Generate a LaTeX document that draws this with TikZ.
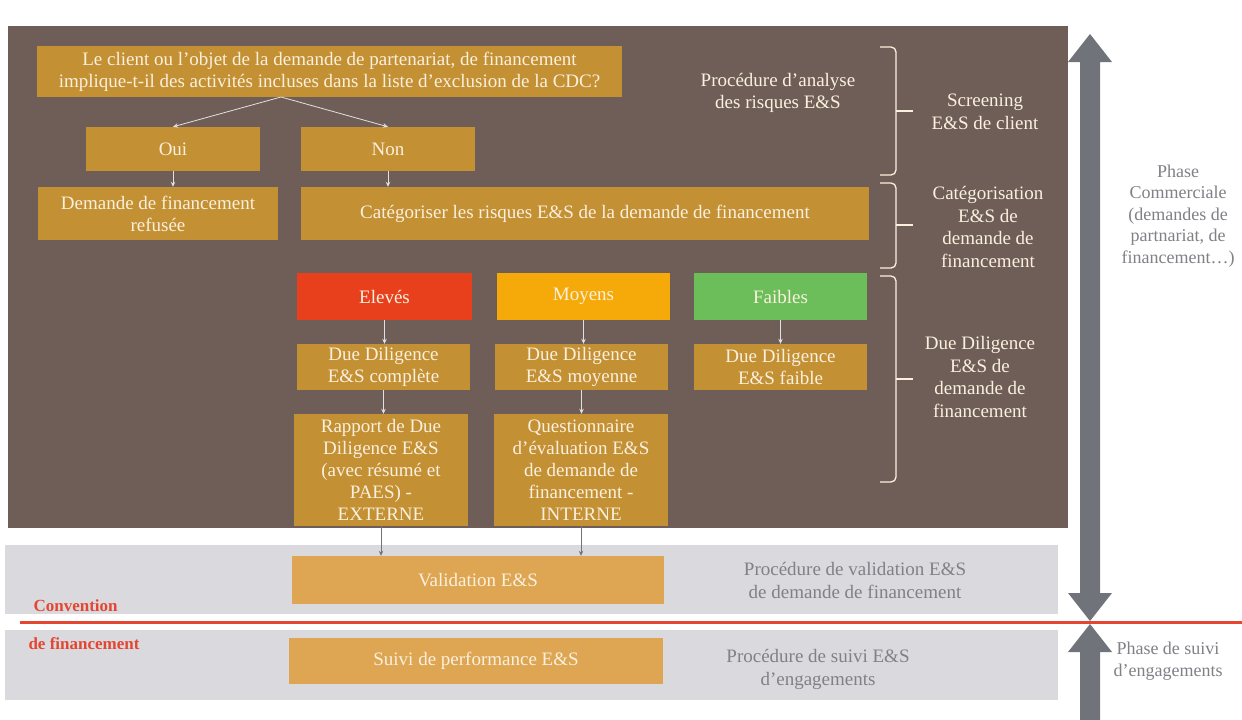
\documentclass[tikz,border=0pt]{standalone}
\usepackage{fontspec}
\setmainfont{Liberation Serif}
\usetikzlibrary{arrows.meta,calc}
\definecolor{brownbg}{RGB}{110,94,87}
\definecolor{mustard}{RGB}{196,144,52}
\definecolor{lightmustard}{RGB}{222,166,82}
\definecolor{cream}{RGB}{250,240,222}
\definecolor{redbox}{RGB}{232,64,28}
\definecolor{orangebox}{RGB}{246,170,10}
\definecolor{greenbox}{RGB}{108,190,90}
\definecolor{bandgray}{RGB}{218,218,222}
\definecolor{graytext}{RGB}{128,128,134}
\definecolor{redline}{RGB}{228,70,50}
\definecolor{arrowgray}{RGB}{112,116,122}
\definecolor{flowcol}{RGB}{225,225,228}
\begin{document}
\begin{tikzpicture}[x=1pt,y=-1pt,
  box/.style={fill=mustard,text=cream,align=center,inner sep=0pt,font=\fontsize{19}{22}\selectfont},
  lightbox/.style={box,fill=lightmustard},
  flow/.style={draw=flowcol,line width=0.8pt,-{Stealth[length=5pt,width=4.5pt]}},
  outflow/.style={draw=arrowgray,line width=0.8pt,-{Stealth[length=5pt,width=4.5pt]}},
  sidelabel/.style={text=cream,align=center,font=\fontsize{19}{22.5}\selectfont},
  graylabel/.style={text=graytext,align=center,font=\fontsize{19}{23}\selectfont},
  phaselabel/.style={text=graytext,align=center,font=\fontsize{18}{21.5}\selectfont},
  bracestyle/.style={draw=cream,line width=1.3pt,rounded corners=5pt},
  redtext/.style={anchor=west,text=redline,font=\fontsize{17}{20}\selectfont\bfseries}
]
\useasboundingbox (0,0) rectangle (1242,720);
\fill[white] (0,0) rectangle (1242,720);
\fill[brownbg] (8,26) rectangle (1068,528);
\fill[bandgray] (5,545) rectangle (1058,614);
\fill[bandgray] (5,630) rectangle (1058,700);

% boxes
\node[box,minimum width=585pt,minimum height=51pt] (q) at (329.5,71.5)
  {Le client ou l'objet de la demande de partenariat, de financement\\implique-t-il des activités incluses dans la liste d’exclusion de la CDC?};
\node[box,minimum width=174pt,minimum height=44pt] (oui) at (173,149) {Oui};
\node[box,minimum width=174pt,minimum height=44pt] (non) at (388,149) {Non};
\node[box,minimum width=240pt,minimum height=53pt] (ref) at (158,213.5) {Demande de financement\\refusée};
\node[box,minimum width=568pt,minimum height=53pt] (cat) at (585,213.5) {Catégoriser les risques E\&S de la demande de financement};
\node[box,fill=redbox,minimum width=175pt,minimum height=47pt] (elev) at (384.5,296.5) {Elevés};
\node[box,fill=orangebox,minimum width=173pt,minimum height=47pt] (moy) at (583.5,296.5) {Moyens};
\node[box,fill=greenbox,minimum width=173pt,minimum height=47pt] (faib) at (780.5,296.5) {Faibles};
\node[box,minimum width=173pt,minimum height=46pt] (dd1) at (383.5,367) {Due Diligence\\E\&S complète};
\node[box,minimum width=173pt,minimum height=46pt] (dd2) at (581.5,367) {Due Diligence\\E\&S moyenne};
\node[box,minimum width=173pt,minimum height=46pt] (dd3) at (780.5,367) {Due Diligence\\E\&S faible};
\node[box,minimum width=174pt,minimum height=112pt] (rap) at (381,470) {Rapport de Due\\Diligence E\&S\\(avec résumé et\\PAES) -\\EXTERNE};
\node[box,minimum width=174pt,minimum height=112pt] (que) at (581,470) {Questionnaire\\d’évaluation E\&S\\de demande de\\financement -\\INTERNE};
\node[lightbox,minimum width=372pt,minimum height=48pt] (val) at (478,580) {Validation E\&S};
\node[lightbox,minimum width=374pt,minimum height=46pt] (suivi) at (476,661) {Suivi de performance E\&S};

% connectors
\coordinate (qs) at (281,97);
\draw[flow] (qs) -- (oui.north);
\draw[flow] (qs) -- (non.north);
\draw[flow] (oui.south) -- (oui.south |- ref.north);
\draw[flow] (non.south) -- (non.south |- cat.north);
\draw[flow] (elev.south) -- (elev.south |- dd1.north);
\draw[flow] (moy.south) -- (moy.south |- dd2.north);
\draw[flow] (faib.south) -- (faib.south |- dd3.north);
\draw[flow] (dd1.south) -- (dd1.south |- rap.north);
\draw[flow] (dd2.south) -- (dd2.south |- que.north);
\draw[outflow] (rap.south) -- (rap.south |- val.north);
\draw[outflow] (que.south) -- (que.south |- val.north);

% labels in brown area
\node[sidelabel] (proc) at (778,93) {Procédure d’analyse\\des risques E\&S};
\draw[bracestyle] (880,47) -- (896,47) -- (896,175) -- (880,175);
\draw[draw=cream,line width=1.3pt] (896,111) -- (913,111);
\draw[bracestyle] (880,183) -- (896,183) -- (896,268) -- (880,268);
\draw[draw=cream,line width=1.3pt] (896,225) -- (913,225);
\draw[bracestyle] (880,276) -- (896,276) -- (896,482) -- (880,482);
\draw[draw=cream,line width=1.3pt] (896,379) -- (913,379);
\node[sidelabel] (scr) at (985,112) {Screening\\E\&S de client};
\node[sidelabel] (catl) at (988,227) {Catégorisation\\E\&S de\\demande de\\financement};
\node[sidelabel] (ddl) at (980,377) {Due Diligence\\E\&S de\\demande de\\financement};

% gray band labels
\node[graylabel] (pval) at (855,580) {Procédure de validation E\&S\\de demande de financement};
\node[graylabel] (psuiv) at (818,669) {Procédure de suivi E\&S\\d’engagements};

% big arrows
\fill[arrowgray] (1090,34) -- (1112,62) -- (1100,62) -- (1100,593) -- (1112,593) -- (1090,621)
  -- (1068,593) -- (1080,593) -- (1080,62) -- (1068,62) -- cycle;
\fill[arrowgray] (1090,624) -- (1112,652) -- (1100,652) -- (1100,720) -- (1080,720) -- (1080,652) -- (1068,652) -- cycle;

% red line
\draw[redline,line width=3pt] (20,622) -- (1242,622);
\node[redtext] (conv) at (30,606) {Convention};
\node[redtext] (conv2) at (25,644) {de financement};

% right labels
\node[phaselabel] (phc) at (1178,216) {Phase\\Commerciale\\(demandes de\\partnariat, de\\financement…)};
\node[phaselabel] (phs) at (1168,661) {Phase de suivi\\d'engagements};
\end{tikzpicture}
\end{document}
